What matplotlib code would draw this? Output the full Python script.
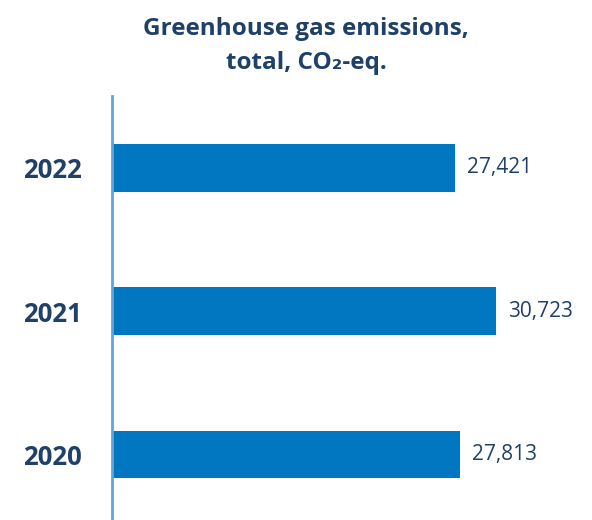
import matplotlib.pyplot as plt

years = ["2020", "2021", "2022"]
emissions = [27813, 30723, 27421]
value_labels = ["27,813", "30,723", "27,421"]

navy = "#1f4068"
bar_blue = "#0077c0"
axis_blue = "#5aa8dc"

plt.rcParams['font.family'] = ['Open Sans', 'DejaVu Sans']

fig = plt.figure(figsize=(5.92, 5.2), dpi=100)
ax = fig.add_axes([112 / 592, 0, 1 - 112 / 592, 1 - 96 / 520])

ypos = list(range(len(years)))
ax.barh(ypos, emissions, height=0.33, color=bar_blue, zorder=2)

for y, v, lab in zip(ypos, emissions, value_labels):
    ax.annotate(lab, (v, y), xytext=(9, 0), textcoords="offset points",
                ha="left", va="center", fontsize=15, color=navy)

ax.set_xlim(0, 38400)
ax.set_ylim(-0.46, 2.503)

ax.set_yticks(ypos)
ax.set_yticklabels(years, fontsize=18.5, fontweight="bold", color=navy)
ax.tick_params(axis="y", length=0, pad=22)
ax.set_xticks([])

for s in ["top", "right", "bottom"]:
    ax.spines[s].set_visible(False)
ax.spines["left"].set_color(axis_blue)
ax.spines["left"].set_linewidth(2)

fig.text(306 / 592, 1 - 46 / 520, "Greenhouse gas emissions,\ntotal, CO\u2082-eq.",
         ha="center", va="center", fontsize=17.5, fontweight="bold", color=navy,
         linespacing=1.6)

fig.savefig("out.png", dpi=100)
